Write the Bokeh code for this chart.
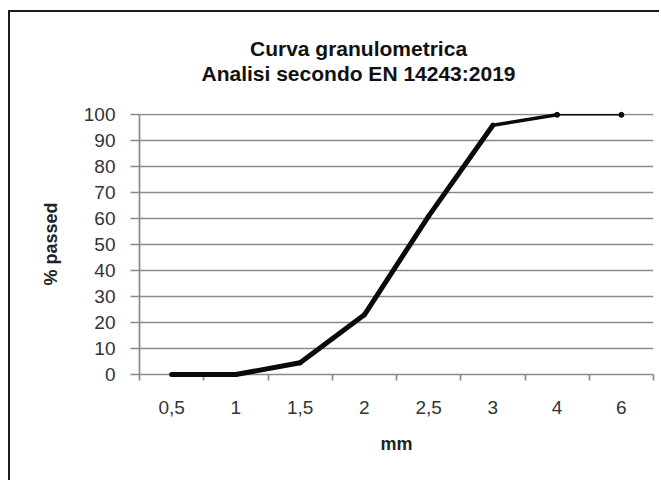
from bokeh.plotting import figure
from bokeh.models import Range1d, FixedTicker, Title
from bokeh.embed import file_html
from bokeh.resources import INLINE

# ---- data ----
categories = ["0,5", "1", "1,5", "2", "2,5", "3", "4", "6"]
passed = [0, 0, 4.5, 23, 61, 96, 100, 100]
y_ticks = [0, 10, 20, 30, 40, 50, 60, 70, 80, 90, 100]
title_line1 = "Curva granulometrica"
title_line2 = "Analisi secondo EN 14243:2019"
x_label = "mm"
y_label = "% passed"

# ---- styles ----
seg_widths = [5, 5, 5, 5, 5, 3.5, 1.6]
GRID = "#8a8a8a"
FONT = "Liberation Sans"

xs = [i + 0.5 for i in range(len(categories))]
bounds = list(range(len(categories) + 1))

p = figure(width=651, height=470, output_backend="svg", toolbar_location=None,
           title=None,
           x_range=Range1d(0, len(categories)), y_range=Range1d(0, 100.5),
           min_border_left=129, min_border_right=8,
           min_border_top=101, min_border_bottom=108,
           background_fill_color="white", border_fill_color="white")
p.styles = {"border-left": "2px solid #1c1c1c", "border-top": "2px solid #1c1c1c",
            "margin-top": "10px", "margin-left": "8px"}
p.outline_line_color = None

# titles: spacer first (closest to plot), then line 2, then line 1
spacer = Title(text=" ", text_font_size="1px", standoff=26)
t2 = Title(text=title_line2, align="left", offset=62, text_font=FONT,
           text_font_size="21px", text_font_style="bold", text_color="#111111",
           standoff=0)
t1 = Title(text=title_line1, align="left", offset=110.5, text_font=FONT,
           text_font_size="21px", text_font_style="bold", text_color="#111111",
           standoff=0)
p.add_layout(spacer, "above")
p.add_layout(t2, "above")
p.add_layout(t1, "above")

# grid
p.xgrid.visible = False
p.ygrid.ticker = FixedTicker(ticks=y_ticks)
p.ygrid.grid_line_color = GRID
p.ygrid.grid_line_width = 1.7

# x axis
xa = p.xaxis[0]
xa.ticker = FixedTicker(ticks=xs, minor_ticks=bounds)
xa.major_label_overrides = {x: c for x, c in zip(xs, categories)}
xa.major_tick_out = 0
xa.major_tick_in = 0
xa.minor_tick_out = 6
xa.minor_tick_in = 0
xa.minor_tick_line_color = GRID
xa.minor_tick_line_width = 1.7
xa.axis_line_color = GRID
xa.axis_line_width = 1.7
xa.major_label_standoff = 20
xa.major_label_text_font = FONT
xa.major_label_text_font_size = "19px"
xa.major_label_text_color = "#333333"
xa.axis_label = x_label
xa.axis_label_text_font = FONT
xa.axis_label_text_font_size = "18px"
xa.axis_label_text_font_style = "bold"
xa.axis_label_text_color = "#222222"
xa.axis_label_standoff = 17

# y axis
ya = p.yaxis[0]
ya.ticker = FixedTicker(ticks=y_ticks)
ya.bounds = (0, 100)
ya.major_tick_out = 9
ya.major_tick_in = 0
ya.minor_tick_line_color = None
ya.major_tick_line_color = GRID
ya.major_tick_line_width = 1.7
ya.axis_line_color = GRID
ya.axis_line_width = 1.7
ya.major_label_standoff = 15
ya.major_label_text_font = FONT
ya.major_label_text_font_size = "19px"
ya.major_label_text_color = "#333333"
ya.axis_label = y_label
ya.axis_label_text_font = FONT
ya.axis_label_text_font_size = "18px"
ya.axis_label_text_font_style = "bold"
ya.axis_label_text_color = "#222222"
ya.axis_label_standoff = 20

# curve (overlay level so the thick line on y=0 is not clipped by the frame)
p.segment(x0=xs[:-1], y0=passed[:-1], x1=xs[1:], y1=passed[1:],
          line_color="#0a0a0a", line_width=seg_widths, line_cap="round",
          level="overlay")
p.scatter(x=xs[-2:], y=passed[-2:], size=5, color="#0a0a0a", level="overlay")

open("out.html", "w").write(file_html(p, INLINE))
